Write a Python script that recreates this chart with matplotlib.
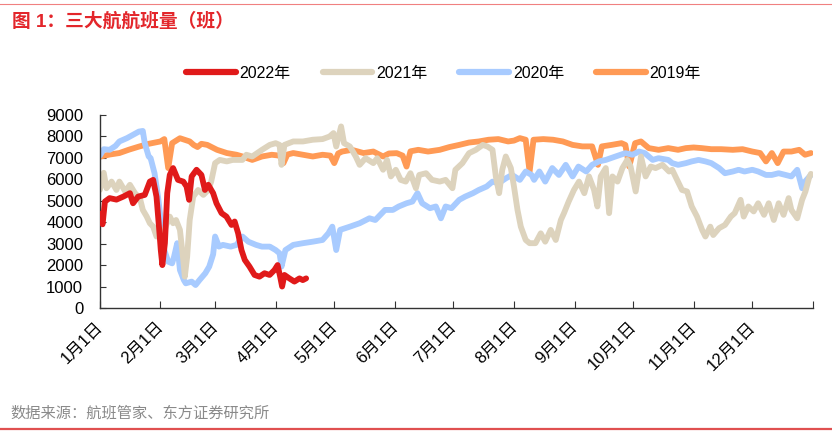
import numpy as np
import matplotlib
matplotlib.use('Agg')
import matplotlib.pyplot as plt
from matplotlib.lines import Line2D
from matplotlib.transforms import ScaledTranslation

plt.rcParams['font.family'] = ['Liberation Sans', 'Noto Sans CJK SC']

# 各年份航班量（天序号, 班次）
day_2022 = [0, 1.4, 2.6, 5, 8.5, 12, 15.4, 17, 19.6, 23, 25.6, 27.3, 29, 30.4, 31.2, 32,
            33.3, 34.5, 35.8, 37.5, 40, 42.7, 44.4, 45.7, 47, 49.5, 52, 53.8, 55.5, 58,
            59.7, 62.3, 64.8, 67.4, 69, 70.8, 72.5, 74.2, 76.6, 79.2, 81.7, 84.3, 86.9,
            89.4, 91, 92.3, 93.3, 94.5, 97, 99.6, 102.2, 103.9, 105.6]
flights_2022 = [4400, 3900, 4960, 5120, 5050, 5190, 5350, 4880, 5190, 5270, 5890, 5970,
                5190, 3640, 2700, 2000, 3020, 5350, 6200, 6520, 5970, 5890, 5660, 5040,
                6130, 6440, 6200, 5500, 5740, 5350, 4880, 4420, 4260, 3870, 4030, 3480,
                2700, 2240, 1930, 1540, 1460, 1620, 1540, 1770, 2000, 1460, 1000, 1540,
                1380, 1230, 1380, 1300, 1380]

day_2021 = [0, 2, 3.4, 6, 8.5, 10, 13, 15.4, 18, 20.5, 22, 24, 25.6, 27.3, 29, 30.7, 32.4,
            34, 35.8, 37.5, 39, 41, 42.7, 43.5, 44.7, 46, 47.8, 50.3, 53, 55.5, 57, 59,
            61.4, 65, 68, 73, 75, 78, 83, 87, 90, 92, 93, 94.5, 99, 104, 109, 114, 117.6,
            119.6, 121, 123.5, 125, 128, 131, 133, 136, 140, 142, 145, 147, 149, 151.5,
            154, 156.6, 159, 161.8, 163.5, 167, 170, 174, 177, 180.5, 182, 185.6, 189,
            192.5, 196, 198.4, 201, 202.7, 204.4, 206, 207.8, 210.4, 212, 213.8, 215.5,
            218, 220, 223, 225.7, 228, 230.8, 233.4, 236, 237.6, 240, 242.7, 245.3, 248,
            250.4, 253, 254.7, 256.4, 259, 260.7, 262.4, 265, 267.5, 270, 271.7, 274.3,
            277, 279.4, 282, 284.5, 288, 291.4, 293, 295.5, 298, 300.6, 303, 305.7, 308.3,
            310, 312.5, 314, 317, 320, 323, 325, 328, 329.6, 332, 334.7, 337, 340, 342.4,
            345, 347.5, 350, 352.6, 354, 357, 359.5, 361.2, 363, 364]
flights_2021 = [5500, 6300, 5580, 5890, 5500, 5890, 5430, 5740, 5350, 5120, 4570, 4260,
                3950, 3790, 3330, 3480, 3400, 3870, 4260, 3950, 4100, 3640, 2240, 1460,
                2390, 4100, 5190, 5500, 5270, 5500, 5890, 6750, 6900, 6830, 6900, 6900,
                7140, 7060, 7370, 7600, 7680, 7600, 6670, 7600, 7760, 7760, 7840, 7870,
                7990, 8150, 7525, 8460, 7680, 7525, 7060, 6670, 6980, 6750, 6980, 6440,
                6900, 6130, 6440, 5970, 5890, 6280, 5580, 6200, 6280, 5970, 5890, 5970,
                5580, 6440, 6750, 7215, 7370, 7600, 7525, 7370, 6130, 5350, 6440, 7060,
                6520, 5660, 4570, 3790, 3170, 3020, 3020, 3480, 3090, 3640, 3170, 4100,
                4420, 4960, 5500, 5890, 5350, 6130, 5500, 4730, 6130, 6520, 4420, 6130,
                5890, 6520, 6900, 6590, 5430, 7060, 6130, 6590, 6520, 6670, 6360, 6440,
                5970, 5500, 5430, 4730, 4260, 3640, 3330, 3790, 3400, 3720, 3870, 4260,
                4420, 5040, 4260, 4730, 4500, 4880, 4340, 4880, 4100, 4880, 4340, 5120,
                4570, 4180, 5040, 5430, 6050, 6250]

day_2020 = [0, 2, 5, 8, 10, 14, 17, 20, 22, 23, 25, 26, 28, 30, 31.6, 33, 35, 37, 38, 39.6,
            41, 43, 44, 47, 49, 51, 54, 56, 58, 59, 61, 63, 67, 70, 73, 76, 80, 83, 87, 90,
            92, 93, 95, 99, 104, 109, 114, 117, 119, 121, 123, 128, 133, 138, 141, 146,
            150, 153, 157, 160, 162.6, 165, 169, 172, 174.6, 177, 180, 184, 187, 191, 194,
            198, 201, 204, 208, 211, 215, 218, 221, 222.3, 225, 228, 231.6, 235, 238.5,
            242, 245, 249, 252, 255.5, 259, 264, 269, 272.6, 276, 279, 283, 286, 291, 293,
            296, 300, 303, 306.5, 310, 313, 317, 320, 324, 327, 330, 334, 337, 341, 344,
            347.5, 351, 354, 357, 359.5, 361, 364]
flights_2020 = [7100, 7400, 7370, 7550, 7760, 7920, 8070, 8220, 8250, 7680, 7060, 6980,
                6280, 5040, 3790, 2700, 2160, 2080, 2390, 3020, 1770, 1300, 1150, 1230,
                1070, 1300, 1620, 1930, 2500, 3330, 2860, 2940, 2860, 2940, 3330, 3090,
                2940, 2860, 2860, 2700, 2550, 1930, 2700, 2940, 3020, 3090, 3170, 3480,
                3790, 2700, 3640, 3790, 3950, 4180, 4100, 4570, 4570, 4730, 4880, 4960,
                5350, 4880, 4650, 4730, 4180, 4730, 4650, 5040, 5190, 5350, 5500, 5660,
                5890, 5810, 6050, 6200, 5970, 6360, 6200, 5970, 6360, 5890, 6520, 6200,
                6670, 6130, 6590, 6360, 6670, 6830, 6900, 7060, 7215, 7140, 7290, 7215,
                6900, 6980, 6900, 6750, 6670, 6750, 6830, 6900, 6830, 6750, 6520, 6280,
                6360, 6440, 6360, 6440, 6360, 6200, 6200, 6280, 6200, 6130, 6440, 5580,
                5890, 6200]

day_2019 = [0, 5, 10, 15, 20, 25, 31, 33, 35, 37, 41, 46, 48, 50, 52, 55, 60, 65, 70, 73,
            78, 83, 88, 92, 94, 96, 99, 104, 109, 114, 118, 120, 122, 124, 129, 135, 140,
            145, 148, 152, 155, 157, 159, 163, 168, 174, 179, 184, 189, 194, 199, 204,
            209, 212, 215, 218, 220, 222, 227, 232, 237, 242, 247, 252, 255, 257, 262,
            267, 269, 271, 274, 277, 281, 286, 291, 296, 300, 304, 308, 313, 318, 324,
            329, 334, 338, 341, 344, 347, 350, 354, 358, 361, 364]
flights_2019 = [7050, 7150, 7220, 7380, 7520, 7650, 7760, 7870, 6520, 7680, 7910, 7760,
                7600, 7500, 7650, 7600, 7370, 7220, 7140, 7060, 6900, 7060, 7140, 7100,
                6750, 7150, 7220, 7140, 7060, 7140, 7100, 6750, 7200, 7290, 7370, 7220,
                7290, 7060, 7200, 7215, 7100, 6590, 7300, 7370, 7290, 7370, 7500, 7600,
                7710, 7760, 7840, 7870, 7760, 7800, 7915, 7840, 6360, 7840, 7870, 7840,
                7760, 7600, 7530, 7530, 6670, 7530, 7600, 7680, 7600, 6590, 7680, 7760,
                7450, 7370, 7450, 7370, 7450, 7480, 7450, 7400, 7400, 7370, 7400, 7290,
                7220, 6830, 7220, 6750, 7290, 7290, 7370, 7140, 7220]

month_starts = [0, 31, 59, 90, 120, 151, 181, 212, 243, 273, 304, 334, 365]
month_labels = ['1月1日', '2月1日', '3月1日', '4月1日', '5月1日', '6月1日', '7月1日',
                '8月1日', '9月1日', '10月1日', '11月1日', '12月1日', '']

series = [
    ('2022年', day_2022, flights_2022, '#E01A1A'),
    ('2021年', day_2021, flights_2021, '#DDD3BD'),
    ('2020年', day_2020, flights_2020, '#A8CBFF'),
    ('2019年', day_2019, flights_2019, '#FF9A55'),
]

fig = plt.figure(figsize=(8.32, 4.40), dpi=100)
ax = fig.add_axes([0.120, 0.300, 0.857, 0.439])

# 先画早年份，2022 放在最上层
for name, d, v, c in reversed(series):
    ax.plot(d, v, color=c, linewidth=4.2, solid_joinstyle='round',
            solid_capstyle='round', zorder=3 if name == '2022年' else 2)

ax.set_xlim(0, 365)
ax.set_ylim(0, 9000)
ax.set_yticks(np.arange(0, 9001, 1000))
ax.set_xticks(month_starts)
ax.set_xticklabels(month_labels, rotation=45, ha='right', rotation_mode='default')
ax.tick_params(axis='y', direction='in', length=4, pad=12, labelsize=12, color='#333333')
ax.tick_params(axis='x', direction='in', length=5, pad=8, labelsize=12, color='#333333')
shift = ScaledTranslation(6 / 100, 0, fig.dpi_scale_trans)
for lbl in ax.get_xticklabels():
    lbl.set_transform(lbl.get_transform() + shift)
for s in ['top', 'right']:
    ax.spines[s].set_visible(False)
for s in ['left', 'bottom']:
    ax.spines[s].set_color('#333333')
    ax.spines[s].set_linewidth(1.0)

handles = [Line2D([0], [0], color=c, linewidth=4.5, solid_capstyle='round')
           for name, d, v, c in series]
fig.legend(handles, [s[0] for s in series], loc='center',
           bbox_to_anchor=(0.533, 0.834), ncol=4, frameon=False, fontsize=11.5,
           handlelength=3.1, handletextpad=0.25, columnspacing=2.0)

fig.text(0.014, 0.950, '图 1：三大航航班量（班）', color='#E3262B', fontsize=13.5,
         fontweight='bold', va='center', ha='left')
fig.text(0.012, 0.061, '数据来源：航班管家、东方证券研究所', color='#8A8A8A',
         fontsize=11, va='center', ha='left')

fig.add_artist(Line2D([0, 1], [0.990, 0.990], color='#F08080', linewidth=0.8))
fig.add_artist(Line2D([0, 1], [0.024, 0.024], color='#E05050', linewidth=1.6))

fig.savefig('out.png', dpi=100)
